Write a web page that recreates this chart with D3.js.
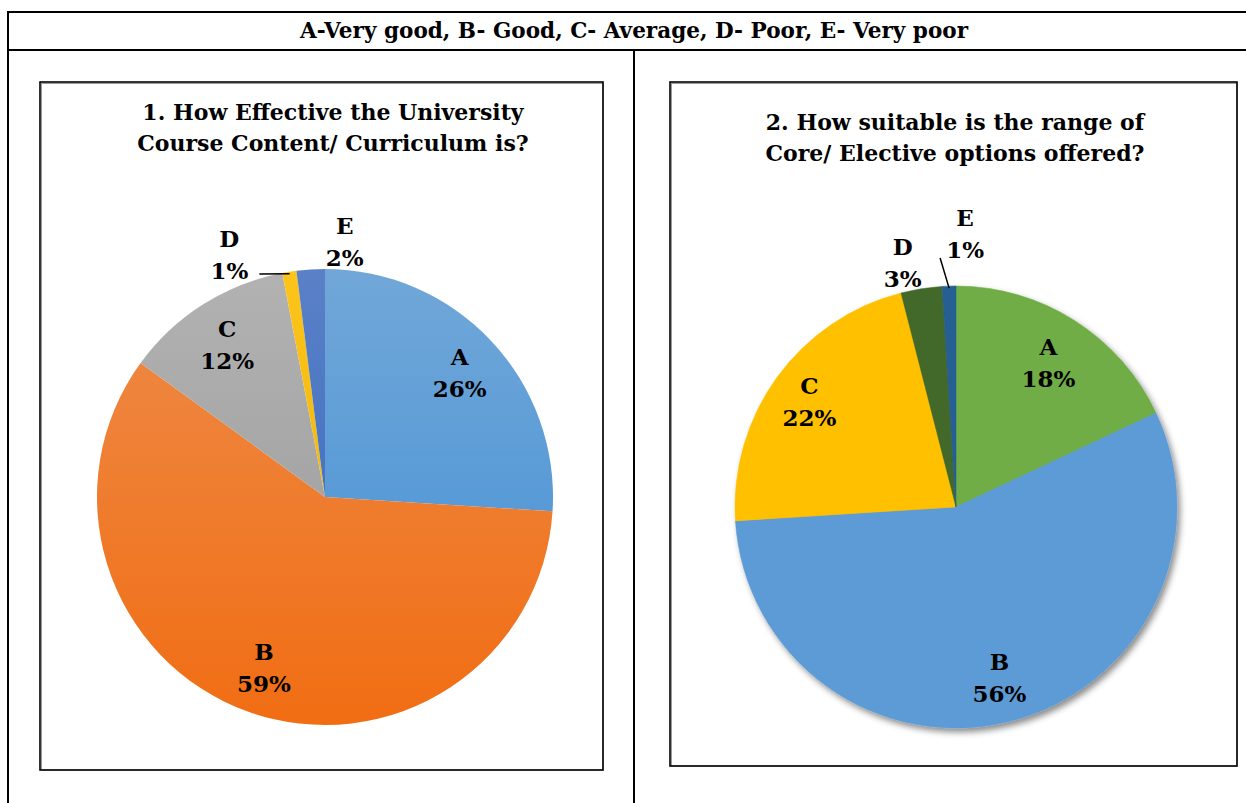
<!DOCTYPE html>
<html>
<head>
<meta charset="utf-8">
<script src="https://cdn.jsdelivr.net/npm/d3@7"></script>
<style>
  body { margin: 0; background: #fff; }
  text { font-family: "DejaVu Serif", "Liberation Serif", serif; font-weight: bold; fill: #000; }
</style>
</head>
<body>
<svg width="1246" height="803"></svg>
<script>
// data
var header = "A-Very good, B- Good, C- Average, D- Poor, E- Very poor";
var grades = ["A", "B", "C", "D", "E"];
var q1Title = ["1. How Effective the University", "Course Content/ Curriculum is?"];
var q1Values = [26, 59, 12, 1, 2];
var q2Title = ["2. How suitable is the range of", "Core/ Elective options offered?"];
var q2Values = [18, 56, 22, 3, 1];

var q1Colours = ["#5B9BD5", "#ED7D31", "#A5A5A5", "#FFC000", "#4472C4"];
var q2Colours = ["#70AD47", "#5B9BD5", "#FFC000", "#43682B", "#255E91"];

var svg = d3.select("svg");
var defs = svg.append("defs");

var shadow = defs.append("filter").attr("id", "shadow")
    .attr("x", "-10%").attr("y", "-10%").attr("width", "125%").attr("height", "125%");
shadow.append("feDropShadow")
    .attr("dx", 3).attr("dy", 4).attr("stdDeviation", 3)
    .attr("flood-color", "#000").attr("flood-opacity", 0.45);

// table frame
var frame = svg.append("g").attr("stroke", "#000").attr("stroke-width", 2);
frame.append("line").attr("x1", 8).attr("x2", 1246).attr("y1", 12).attr("y2", 12);
frame.append("line").attr("x1", 8).attr("x2", 1246).attr("y1", 50).attr("y2", 50);
frame.append("line").attr("x1", 8).attr("x2", 8).attr("y1", 11).attr("y2", 803);
frame.append("line").attr("x1", 634).attr("x2", 634).attr("y1", 50).attr("y2", 803);

var head = svg.append("text")
    .attr("x", 634).attr("y", 38)
    .attr("text-anchor", "middle")
    .style("font-size", "22px")
    .text(header);
head.attr("textLength", 668).attr("lengthAdjust", "spacingAndGlyphs");

function chartBox(x0, y0, x1, y1) {
  svg.append("rect")
      .attr("x", x0 + 1.5).attr("y", y0 + 1.5)
      .attr("width", x1 - x0 - 1.5).attr("height", y1 - y0 - 1.5)
      .attr("fill", "none").attr("stroke", "#9a9a9a").attr("stroke-width", 1);
  svg.append("rect")
      .attr("x", x0).attr("y", y0)
      .attr("width", x1 - x0).attr("height", y1 - y0)
      .attr("fill", "none").attr("stroke", "#000").attr("stroke-width", 1.6);
}

function shade(c, dl, ds) {
  var h = d3.hsl(c);
  h.l = Math.max(0, Math.min(1, h.l + dl));
  h.s = Math.max(0, Math.min(1, h.s + ds));
  return h.toString();
}

function drawPie(opt) {
  var g = svg.append("g").attr("transform", "translate(" + opt.cx + "," + opt.cy + ")");

  var pie = d3.pie().sort(null).value(function(d) { return d; });
  var arcs = pie(opt.values);
  var arc = d3.arc().innerRadius(0).outerRadius(opt.r);

  var fills = opt.colours.map(function(c, i) {
    if (!opt.gradient) return c;
    var id = opt.id + "-grad-" + i;
    var lg = defs.append("linearGradient").attr("id", id)
        .attr("gradientUnits", "userSpaceOnUse")
        .attr("x1", 0).attr("y1", -opt.r).attr("x2", 0).attr("y2", opt.r);
    lg.append("stop").attr("offset", "0%").attr("stop-color", shade(c, 0.05, -0.02));
    lg.append("stop").attr("offset", "100%").attr("stop-color", shade(c, -0.05, 0.05));
    return "url(#" + id + ")";
  });

  var slices = g.append("g");
  if (opt.shadow) slices.attr("filter", "url(#shadow)");
  slices.selectAll("path")
      .data(arcs)
      .enter().append("path")
      .attr("d", arc)
      .attr("fill", function(d, i) { return fills[i]; })
      .attr("stroke", function(d, i) { return opt.gradient ? "none" : opt.colours[i]; })
      .attr("stroke-width", 0.5);

  // labels
  arcs.forEach(function(d, i) {
    var p = opt.place[i];
    var mid = (d.startAngle + d.endAngle) / 2;
    var a = p.angle != null ? p.angle * Math.PI / 180 : mid;
    var rr = p.rf * opt.r;
    var lx = rr * Math.sin(a), ly = -rr * Math.cos(a);
    var t = g.append("text")
        .attr("text-anchor", "middle")
        .style("font-size", "23px");
    t.append("tspan").attr("x", lx).attr("y", ly - 6).text(grades[i]);
    t.append("tspan").attr("x", lx).attr("y", ly + 26).text(opt.values[i] + "%");

    if (p.leader) {
      var ax = (opt.r - 2) * Math.sin(mid), ay = -(opt.r - 2) * Math.cos(mid);
      g.append("line")
          .attr("x1", ax).attr("y1", ay)
          .attr("x2", lx + p.leader[0]).attr("y2", ly + p.leader[1])
          .attr("stroke", "#000").attr("stroke-width", 1.5);
    }
  });

  var title = svg.append("text")
      .attr("text-anchor", "middle")
      .style("font-size", "22px");
  opt.title.forEach(function(line, k) {
    title.append("tspan").attr("x", opt.tx).attr("y", opt.ty + k * 31).text(line);
  });
}

chartBox(40, 82, 603, 770);
chartBox(670, 82, 1237, 766);

drawPie({
  id: "q1", cx: 325, cy: 497, r: 228, values: q1Values, colours: q1Colours,
  gradient: true, shadow: false,
  title: q1Title, tx: 333, ty: 120,
  place: [
    {rf: 0.81}, {rf: 0.79}, {rf: 0.80},
    {rf: 1.15, angle: 338.6, leader: [30, 21]},
    {rf: 1.13, angle: 4.4}
  ]
});

drawPie({
  id: "q2", cx: 956, cy: 507, r: 221, values: q2Values, colours: q2Colours,
  gradient: false, shadow: true,
  title: q2Title, tx: 955, ty: 130,
  place: [
    {rf: 0.78}, {rf: 0.79}, {rf: 0.82},
    {rf: 1.14, angle: 347.8},
    {rf: 1.245, angle: 1.9, leader: [-25, 26]}
  ]
});
</script>
</body>
</html>
